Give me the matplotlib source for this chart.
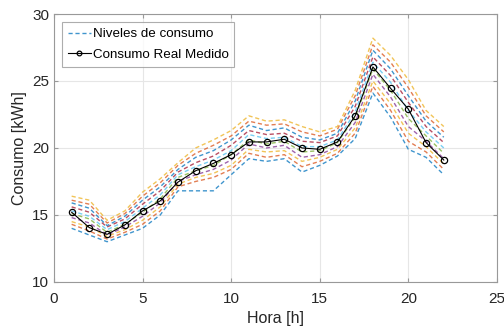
import numpy as np
import matplotlib.pyplot as plt

plt.rcParams['font.family'] = ['Liberation Sans', 'DejaVu Sans']

hora = list(range(1, 23))

# consumo medido
real = [15.2, 14.05, 13.55, 14.25, 15.3, 16.05, 17.45, 18.3, 18.85, 19.5, 20.45,
        20.45, 20.65, 20.0, 19.9, 20.45, 22.4, 26.05, 24.45, 22.9, 20.4, 19.1]

# niveles de consumo (de menor a mayor)
nivel_01 = [14.0, 13.5, 13.0, 13.5, 14.0, 15.0, 16.8, 16.8, 16.8, 18.0, 19.2, 19.0, 19.2, 18.2, 18.7, 19.4, 20.7, 24.1, 22.3, 19.9, 19.3, 18.0]
nivel_02 = [14.3, 13.8, 13.2, 13.7, 14.3, 15.3, 17.1, 17.5, 17.8, 18.4, 19.6, 19.3, 19.5, 18.6, 19.0, 19.6, 21.1, 24.6, 22.8, 20.5, 19.7, 18.4]
nivel_03 = [14.5, 14.1, 13.4, 13.9, 14.6, 15.6, 17.3, 17.8, 18.1, 18.7, 19.9, 19.7, 19.8, 19.0, 19.3, 19.9, 21.5, 25.0, 23.3, 21.1, 20.1, 18.8]
nivel_04 = [14.8, 14.4, 13.5, 14.1, 14.9, 15.9, 17.5, 18.0, 18.4, 19.1, 20.3, 20.0, 20.2, 19.3, 19.5, 20.1, 21.9, 25.5, 23.8, 21.6, 20.5, 19.2]
nivel_05 = [15.1, 14.7, 13.7, 14.3, 15.2, 16.2, 17.8, 18.3, 18.7, 19.5, 20.6, 20.3, 20.5, 19.7, 19.8, 20.4, 22.3, 25.9, 24.3, 22.2, 20.9, 19.6]
nivel_06 = [15.3, 14.9, 13.9, 14.5, 15.5, 16.5, 18.0, 18.6, 19.1, 19.8, 21.0, 20.7, 20.8, 20.1, 20.1, 20.6, 22.7, 26.4, 24.9, 22.8, 21.2, 20.0]
nivel_07 = [15.6, 15.2, 14.1, 14.7, 15.8, 16.8, 18.2, 18.9, 19.4, 20.2, 21.3, 21.0, 21.1, 20.5, 20.4, 20.9, 23.1, 26.8, 25.4, 23.4, 21.6, 20.4]
nivel_08 = [15.9, 15.5, 14.2, 14.9, 16.1, 17.1, 18.4, 19.3, 19.8, 20.6, 21.7, 21.3, 21.5, 20.8, 20.6, 21.1, 23.5, 27.3, 25.9, 23.9, 22.0, 20.8]
nivel_09 = [16.1, 15.8, 14.4, 15.1, 16.4, 17.4, 18.7, 19.6, 20.2, 20.9, 22.0, 21.7, 21.8, 21.2, 20.9, 21.4, 23.9, 27.7, 26.4, 24.5, 22.4, 21.2]
nivel_10 = [16.4, 16.1, 14.6, 15.3, 16.7, 17.7, 18.9, 20.0, 20.6, 21.3, 22.4, 22.0, 22.1, 21.6, 21.2, 21.6, 24.3, 28.2, 26.9, 25.1, 22.8, 21.6]

niveles = [nivel_01, nivel_02, nivel_03, nivel_04, nivel_05,
           nivel_06, nivel_07, nivel_08, nivel_09, nivel_10]

# orden de colores por defecto de matlab
colores = ['#0072BD', '#D95319', '#EDB120', '#7E2F8E', '#77AC30', '#4DBEEE', '#A2142F']

fig = plt.figure(figsize=(5.04, 3.34), dpi=100)
ax = fig.add_axes([0.107, 0.156, 0.879, 0.802])

for i, n in enumerate(niveles):
    ax.plot(hora, n, '--', color=colores[i % 7], lw=1.0, alpha=0.75, dashes=(3, 2),
            label='Niveles de consumo' if i == 0 else None)

ax.plot(hora, real, '-o', color='black', lw=0.8, ms=4.5, mfc='none', mew=0.9,
        label='Consumo Real Medido')

ax.set_xlim(0, 25)
ax.set_ylim(10, 30)
ax.set_xticks([0, 5, 10, 15, 20, 25])
ax.set_yticks([10, 15, 20, 25, 30])
ax.grid(True, color='#e6e6e6', lw=0.8)
ax.set_axisbelow(True)
for s in ax.spines.values():
    s.set_color('#999999')
    s.set_linewidth(0.8)
ax.tick_params(direction='in', top=True, right=True, length=3, color='#999999',
               labelsize=11, labelcolor='#262626')
ax.tick_params(axis='x', pad=7)
ax.set_xlabel('Hora [h]', fontsize=11.5, color='#262626', labelpad=4)
ax.set_ylabel('Consumo [kWh]', fontsize=11.5, color='#262626', labelpad=4)

leg = ax.legend(loc='upper left', fontsize=9.6, frameon=True, fancybox=False,
                handlelength=1.7, handletextpad=0.15, borderpad=0.45,
                labelspacing=0.6, borderaxespad=0.6, markerscale=0.75)
leg.get_frame().set_edgecolor('#999999')
leg.get_frame().set_linewidth(0.8)

fig.savefig('out.png', dpi=100)
